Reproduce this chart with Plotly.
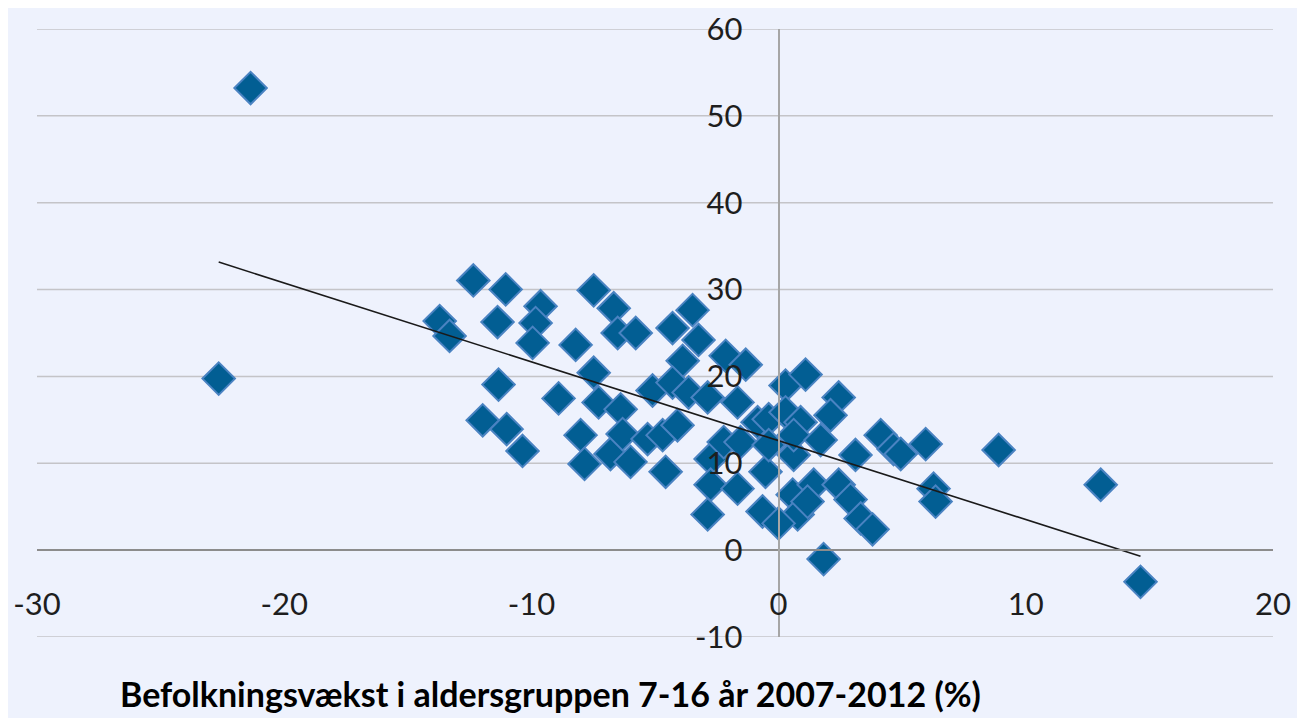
import numpy as np
import plotly.graph_objects as go

# Befolkningsvækst 7-16 år (%) vs. y-værdi (%)
x_vals = [
    -21.36, -22.65,
    -12.35, -11.04, -13.71, -13.31, -11.37, -9.63, -9.83, -9.95, -8.21, -7.48,
    -6.67, -6.51, -11.33, -8.90, -7.48, -7.28, -11.97, -11.00, -10.36, -8.01,
    -7.85, -6.80, -6.39, -6.31,
    -5.78, -4.29, -3.48, -3.24, -3.88, -2.14, -1.33, -5.10, -4.29, -3.64,
    -2.87, -1.66, -5.99, -5.30, -4.69, -4.09, -4.57, -2.75, -2.22, -1.54,
    -0.85, -0.40, -0.53, -2.75, -1.66, -2.87, -0.65, 0.28, 1.09, 0.57,
    1.42, 0.77, 0.61,
    2.43, 2.10, 0.28, 0.89, 0.61, 1.70, -0.40, 3.11, 4.13, 4.65, 4.94,
    5.95, 6.27, 6.35, 2.43, 2.91, 3.32, 3.80, 0.00, 1.82, 1.17,
    8.90, 13.03, 14.64,
]
y_vals = [
    53.2, 19.75,
    31.05, 30.02, 26.37, 24.66, 26.26, 28.08, 26.14, 23.86, 23.63, 29.91,
    27.85, 25.00, 19.06, 17.47, 20.43, 17.01, 14.95, 13.93, 11.42, 13.24,
    9.93, 11.07, 16.21, 13.36,
    25.00, 25.57, 27.63, 24.20, 21.80, 22.37, 21.35, 18.38, 19.29, 18.15,
    17.58, 17.01, 10.16, 12.79, 13.24, 14.38, 9.02, 10.50, 12.44, 12.44,
    14.73, 15.07, 9.02, 7.53, 7.08, 4.11, 4.45, 18.95, 20.21, 6.39,
    7.53, 4.11, 10.96,
    17.58, 15.53, 15.87, 14.73, 13.24, 12.67, 12.10, 10.96, 13.24, 11.64, 11.07,
    12.21, 7.08, 5.59, 7.53, 5.82, 3.65, 2.40, 3.08, -1.03, 5.59,
    11.53, 7.53, -3.65,
]

x_ticks = [-30, -20, -10, 0, 10, 20]
x_ticklabels = ["-30", "-20", "-10", "0", "10", "20"]
y_ticks = [-10, 0, 10, 20, 30, 40, 50, 60]
y_ticklabels = ["-10", "0", "10", "20", "30", "40", "50", "60"]
x_title = "Befolkningsvækst i aldersgruppen 7-16 år 2007-2012 (%)"

# linear trend line computed from the data
xa = np.array(x_vals)
ya = np.array(y_vals)
slope, intercept = np.polyfit(xa, ya, 1)
trend_x = [xa.min(), xa.max()]
trend_y = [slope * v + intercept for v in trend_x]

BG = "#EEF2FD"
FONT = "Lato"
TXT = "#1E1E1E"

# page body has an 8px margin, so the figure starts at (8, 8)
ML, MT = 29, 21
MR, MB = 40, 89
PW = 1305 - ML - MR
PH = 718 - MT - MB

fig = go.Figure()
fig.add_trace(go.Scatter(
    x=x_vals, y=y_vals, mode="markers",
    marker=dict(symbol="diamond", size=25, color="#025E93",
                line=dict(color="#4A83C2", width=2)),
    showlegend=False,
))
fig.add_trace(go.Scatter(
    x=trend_x, y=trend_y, mode="lines",
    line=dict(color="#1a1a1a", width=1.6),
    hoverinfo="skip", showlegend=False,
))

# horizontal gridlines at the y tick values
for v in y_ticks:
    if v == 0:
        continue
    fig.add_shape(type="line", xref="paper", yref="y", x0=0, x1=1, y0=v, y1=v,
                  line=dict(color="#C4C4C8", width=1.5), layer="below")

fig.update_layout(
    width=1305, height=718,
    paper_bgcolor=BG, plot_bgcolor=BG,
    margin=dict(l=ML, r=MR, t=MT, b=MB),
    font=dict(family=FONT, color=TXT, size=31),
    xaxis=dict(
        range=[-30, 20], tickvals=x_ticks, ticktext=x_ticklabels,
        showgrid=False, zeroline=False,
        showline=True, linecolor="#8C8C8C", linewidth=1.5,
        anchor="free", position=10.0 / 70.0,
        ticks="", ticklabelstandoff=27, automargin=False,
        ticklabeloverflow="allow",
        tickfont=dict(family=FONT, size=31, color=TXT),
    ),
    yaxis=dict(
        range=[-10, 60], tickvals=y_ticks, ticktext=y_ticklabels,
        showgrid=False, zeroline=False,
        showline=True, linecolor="#A6A6A6", linewidth=2,
        anchor="free", position=(0 - (-30)) / 50.0,
        ticks="", ticklabelstandoff=29, automargin=False,
        ticklabeloverflow="allow",
        tickfont=dict(family=FONT, size=31, color=TXT),
    ),
    annotations=[dict(
        text="<b>" + x_title + "</b>", xref="paper", yref="paper",
        x=(118 - 37) / PW, y=-(693 - 637) / PH,
        xanchor="left", yanchor="middle", showarrow=False,
        font=dict(family=FONT, size=34, color="#000000"),
    )],
)

fig.write_html("out.html")
